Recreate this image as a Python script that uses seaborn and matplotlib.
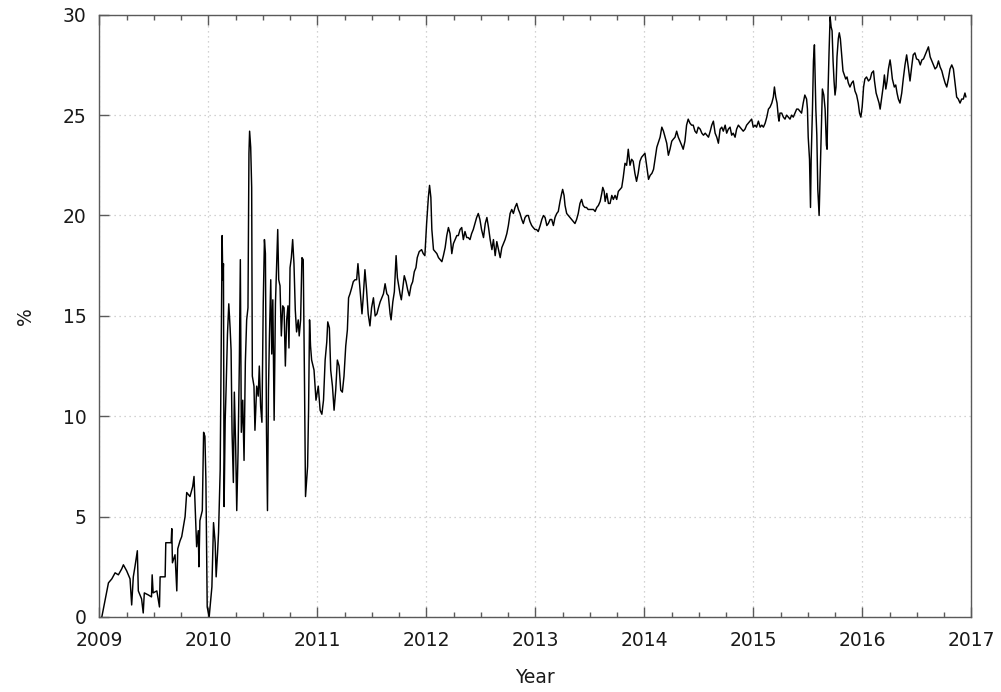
import matplotlib
matplotlib.use("Agg")
import matplotlib.pyplot as plt
from matplotlib.ticker import MultipleLocator, NullLocator
import seaborn as sns
import pandas as pd

# Share (%) over time, decimal years
years = [
    2009.023, 2009.084, 2009.115, 2009.145, 2009.175, 2009.206, 2009.221, 2009.251, 2009.282, 2009.297,
    2009.312, 2009.327, 2009.349, 2009.358, 2009.388, 2009.403, 2009.413, 2009.449, 2009.479, 2009.485,
    2009.494, 2009.528, 2009.552, 2009.558, 2009.604, 2009.610, 2009.659, 2009.665, 2009.671, 2009.695,
    2009.711, 2009.720, 2009.741, 2009.756, 2009.787, 2009.802, 2009.832, 2009.857, 2009.869, 2009.878,
    2009.893, 2009.908, 2009.914, 2009.923, 2009.945, 2009.957, 2009.969, 2009.978, 2009.990,
    2010.008, 2010.033, 2010.048, 2010.063, 2010.072, 2010.085, 2010.094, 2010.109, 2010.118, 2010.127,
    2010.133, 2010.139, 2010.145, 2010.155, 2010.164, 2010.176, 2010.188, 2010.200, 2010.209, 2010.218,
    2010.230, 2010.239, 2010.251, 2010.261, 2010.273, 2010.285, 2010.294, 2010.303, 2010.316, 2010.328,
    2010.340, 2010.352, 2010.364, 2010.373, 2010.379, 2010.389, 2010.398, 2010.404, 2010.419, 2010.428,
    2010.444, 2010.458, 2010.468, 2010.480, 2010.492, 2010.504, 2010.515, 2010.524, 2010.534, 2010.543,
    2010.552, 2010.561, 2010.573, 2010.582, 2010.592, 2010.604, 2010.616, 2010.628, 2010.637, 2010.646,
    2010.658, 2010.670, 2010.683, 2010.695, 2010.707, 2010.719, 2010.731, 2010.740, 2010.750, 2010.762,
    2010.774, 2010.786, 2010.798, 2010.810, 2010.825, 2010.834, 2010.847, 2010.859, 2010.871, 2010.883,
    2010.892, 2010.902, 2010.911, 2010.920, 2010.929, 2010.938, 2010.948, 2010.970, 2010.988,
    2011.009, 2011.026, 2011.042, 2011.057, 2011.072, 2011.087, 2011.096, 2011.111, 2011.123, 2011.139,
    2011.154, 2011.169, 2011.184, 2011.200, 2011.215, 2011.230, 2011.245, 2011.261, 2011.276, 2011.287,
    2011.300, 2011.316, 2011.330, 2011.346, 2011.361, 2011.373, 2011.385, 2011.398, 2011.410, 2011.421,
    2011.437, 2011.452, 2011.467, 2011.483, 2011.498, 2011.515, 2011.531, 2011.547, 2011.561, 2011.577,
    2011.592, 2011.607, 2011.622, 2011.638, 2011.652, 2011.668, 2011.677, 2011.693, 2011.707, 2011.723,
    2011.735, 2011.747, 2011.759, 2011.771, 2011.784, 2011.798, 2011.814, 2011.829, 2011.844, 2011.860,
    2011.875, 2011.890, 2011.905, 2011.917, 2011.935, 2011.957, 2011.972, 2011.987,
    2012.003, 2012.019, 2012.030, 2012.042, 2012.051, 2012.066, 2012.082, 2012.097, 2012.112, 2012.127,
    2012.143, 2012.157, 2012.173, 2012.188, 2012.203, 2012.218, 2012.234, 2012.249, 2012.264, 2012.280,
    2012.294, 2012.310, 2012.325, 2012.340, 2012.355, 2012.371, 2012.385, 2012.401, 2012.416, 2012.431,
    2012.446, 2012.462, 2012.477, 2012.492, 2012.507, 2012.525, 2012.541, 2012.556, 2012.571, 2012.586,
    2012.602, 2012.616, 2012.632, 2012.647, 2012.662, 2012.678, 2012.693, 2012.708, 2012.723, 2012.739,
    2012.753, 2012.769, 2012.784, 2012.799, 2012.814, 2012.830, 2012.845, 2012.860, 2012.876, 2012.890,
    2012.906, 2012.921, 2012.936, 2012.951, 2012.967, 2012.981, 2012.997,
    2013.012, 2013.027, 2013.045, 2013.060, 2013.075, 2013.090, 2013.106, 2013.120, 2013.136, 2013.151,
    2013.166, 2013.181, 2013.197, 2013.211, 2013.227, 2013.242, 2013.251, 2013.264, 2013.273, 2013.288,
    2013.303, 2013.318, 2013.333, 2013.348, 2013.364, 2013.379, 2013.394, 2013.410, 2013.425, 2013.439,
    2013.455, 2013.470, 2013.485, 2013.501, 2013.519, 2013.534, 2013.549, 2013.564, 2013.579, 2013.595,
    2013.610, 2013.619, 2013.632, 2013.641, 2013.656, 2013.671, 2013.686, 2013.702, 2013.716, 2013.732,
    2013.747, 2013.762, 2013.778, 2013.793, 2013.807, 2013.823, 2013.838, 2013.853, 2013.869, 2013.884,
    2013.898, 2013.914, 2013.929, 2013.944, 2013.960, 2013.975, 2013.990,
    2014.006, 2014.021, 2014.039, 2014.054, 2014.070, 2014.085, 2014.115, 2014.145, 2014.161, 2014.176,
    2014.191, 2014.206, 2014.221, 2014.236, 2014.252, 2014.266, 2014.282, 2014.297, 2014.312, 2014.328,
    2014.343, 2014.357, 2014.373, 2014.388, 2014.403, 2014.419, 2014.434, 2014.449, 2014.465, 2014.480,
    2014.495, 2014.513, 2014.528, 2014.543, 2014.559, 2014.574, 2014.589, 2014.605, 2014.619, 2014.634,
    2014.650, 2014.665, 2014.680, 2014.696, 2014.711, 2014.725, 2014.742, 2014.756, 2014.771, 2014.787,
    2014.802, 2014.816, 2014.833, 2014.847, 2014.863, 2014.878, 2014.893, 2014.908, 2014.924, 2014.939,
    2014.954, 2014.970, 2014.985,
    2015.000, 2015.016, 2015.030, 2015.047, 2015.063, 2015.078, 2015.093, 2015.109, 2015.124, 2015.139,
    2015.154, 2015.170, 2015.184, 2015.194, 2015.206, 2015.218, 2015.230, 2015.236, 2015.245, 2015.261,
    2015.276, 2015.291, 2015.306, 2015.321, 2015.337, 2015.352, 2015.367, 2015.382, 2015.398, 2015.412,
    2015.428, 2015.443, 2015.458, 2015.473, 2015.489, 2015.497, 2015.504, 2015.516, 2015.525, 2015.531,
    2015.543, 2015.552, 2015.561, 2015.568, 2015.574, 2015.583, 2015.592, 2015.604, 2015.613, 2015.622,
    2015.634, 2015.647, 2015.659, 2015.671, 2015.677, 2015.686, 2015.695, 2015.705, 2015.714, 2015.723,
    2015.732, 2015.741, 2015.750, 2015.759, 2015.768, 2015.780, 2015.789, 2015.799, 2015.811, 2015.823,
    2015.835, 2015.848, 2015.860, 2015.872, 2015.887, 2015.903, 2015.917, 2015.933, 2015.948, 2015.963,
    2015.975, 2015.987, 2015.999,
    2016.012, 2016.024, 2016.039, 2016.057, 2016.073, 2016.087, 2016.103, 2016.112, 2016.127, 2016.143,
    2016.154, 2016.164, 2016.179, 2016.194, 2016.203, 2016.216, 2016.228, 2016.240, 2016.255, 2016.264,
    2016.276, 2016.294, 2016.307, 2016.319, 2016.331, 2016.346, 2016.362, 2016.376, 2016.392, 2016.407,
    2016.422, 2016.438, 2016.453, 2016.467, 2016.483, 2016.498, 2016.516, 2016.532, 2016.547, 2016.562,
    2016.577, 2016.592, 2016.607, 2016.623, 2016.638, 2016.653, 2016.668, 2016.684, 2016.699, 2016.714,
    2016.730, 2016.744, 2016.760, 2016.775, 2016.790, 2016.805, 2016.821, 2016.836, 2016.851, 2016.866,
    2016.881, 2016.897, 2016.912, 2016.927, 2016.942, 2016.951,
]

share = [
    0.0, 1.7, 1.9, 2.2, 2.1, 2.4, 2.6, 2.3, 1.9, 0.6,
    2.0, 2.5, 3.3, 1.3, 0.9, 0.2, 1.2, 1.1, 1.0, 2.1,
    1.2, 1.3, 0.5, 2.0, 2.0, 3.7, 3.7, 4.4, 2.7, 3.1,
    1.3, 3.4, 3.8, 4.0, 5.0, 6.2, 6.0, 6.5, 7.0, 5.7,
    3.5, 4.3, 2.5, 4.8, 5.3, 9.2, 9.0, 6.8, 0.5,
    0.0, 1.5, 4.7, 3.7, 2.0, 3.2, 4.2, 7.3, 13.2, 19.0,
    16.8, 17.6, 5.5, 9.8, 11.5, 14.1, 15.6, 14.4, 13.3, 9.2,
    6.7, 11.2, 8.5, 5.3, 8.2, 12.7, 17.8, 9.2, 10.8, 7.8,
    12.7, 14.8, 15.4, 23.1, 24.2, 23.4, 21.4, 12.0, 11.5, 9.3,
    11.5, 11.0, 12.5, 10.5, 9.7, 15.6, 18.8, 18.1, 9.2, 5.3,
    11.3, 14.0, 16.8, 13.1, 15.8, 9.8, 15.6, 17.8, 19.3, 16.8,
    16.5, 14.0, 15.5, 15.4, 12.5, 14.8, 15.5, 13.4, 17.4, 17.9,
    18.8, 17.6, 15.3, 14.2, 14.8, 14.0, 14.8, 17.9, 17.8, 11.5,
    6.0, 6.8, 7.5, 10.3, 14.8, 13.5, 12.8, 12.3, 10.8,
    11.5, 10.3, 10.1, 10.8, 12.8, 13.7, 14.7, 14.4, 12.3, 11.5,
    10.3, 11.3, 12.8, 12.5, 11.3, 11.2, 12.0, 13.5, 14.3, 15.9,
    16.1, 16.4, 16.7, 16.8, 16.8, 17.6, 16.8, 15.9, 15.1, 15.9,
    17.3, 16.3, 15.1, 14.5, 15.4, 15.9, 15.0, 15.1, 15.4, 15.7,
    15.9, 16.1, 16.6, 16.1, 16.0, 15.1, 14.8, 15.7, 16.2, 18.0,
    16.9, 16.5, 16.1, 15.8, 16.4, 17.0, 16.7, 16.3, 16.0, 16.5,
    16.7, 17.2, 17.4, 17.9, 18.2, 18.3, 18.1, 18.0,
    19.6, 20.9, 21.5, 20.9, 19.3, 18.3, 18.2, 18.1, 17.9, 17.8,
    17.7, 18.0, 18.4, 19.0, 19.4, 19.1, 18.1, 18.6, 18.8, 19.0,
    19.0, 19.3, 19.4, 18.8, 19.2, 18.9, 18.9, 18.8, 19.1, 19.3,
    19.6, 19.9, 20.1, 19.8, 19.3, 18.9, 19.6, 19.9, 19.4, 18.8,
    18.3, 18.8, 18.0, 18.7, 18.3, 17.9, 18.4, 18.6, 18.8, 19.1,
    19.5, 20.1, 20.3, 20.1, 20.4, 20.6, 20.3, 20.1, 19.8, 19.6,
    19.9, 20.0, 20.0, 19.7, 19.5, 19.4, 19.3,
    19.3, 19.2, 19.5, 19.8, 20.0, 19.9, 19.5, 19.6, 19.8, 19.8,
    19.5, 19.9, 20.1, 20.2, 20.7, 21.1, 21.3, 21.0, 20.5, 20.1,
    20.0, 19.9, 19.8, 19.7, 19.6, 19.8, 20.1, 20.6, 20.8, 20.5,
    20.4, 20.4, 20.3, 20.3, 20.3, 20.3, 20.2, 20.4, 20.5, 20.7,
    21.1, 21.4, 21.2, 20.7, 21.1, 20.6, 20.6, 21.0, 20.8, 21.0,
    20.8, 21.2, 21.3, 21.4, 21.9, 22.6, 22.5, 23.3, 22.5, 22.8,
    22.7, 22.1, 21.7, 22.1, 22.7, 22.9, 23.0,
    23.1, 22.5, 21.8, 22.0, 22.1, 22.3, 23.4, 23.9, 24.4, 24.2,
    23.9, 23.6, 23.0, 23.3, 23.7, 23.8, 23.9, 24.2, 23.9, 23.7,
    23.5, 23.3, 23.7, 24.5, 24.8, 24.6, 24.5, 24.5, 24.2, 24.1,
    24.4, 24.3, 24.1, 24.0, 24.1, 24.0, 23.9, 24.2, 24.5, 24.7,
    24.1, 23.9, 23.6, 24.3, 24.4, 24.2, 24.5, 24.1, 24.3, 24.4,
    24.0, 24.1, 23.9, 24.3, 24.5, 24.4, 24.3, 24.2, 24.3, 24.5,
    24.6, 24.7, 24.8,
    24.4, 24.5, 24.4, 24.7, 24.4, 24.5, 24.4, 24.6, 24.9, 25.3,
    25.4, 25.6, 25.9, 26.4, 25.9, 25.6, 24.9, 24.7, 25.1, 25.1,
    24.9, 24.8, 25.0, 24.9, 24.8, 25.0, 24.9, 25.1, 25.3, 25.3,
    25.2, 25.1, 25.6, 26.0, 25.8, 25.3, 23.9, 22.8, 20.4, 22.8,
    25.3, 27.7, 28.5, 26.9, 25.3, 24.0, 21.3, 20.0, 21.9, 23.6,
    26.3, 26.0, 25.3, 23.5, 23.3, 26.2, 28.1, 29.9, 29.4, 29.2,
    27.7, 26.7, 26.0, 26.4, 27.9, 28.8, 29.1, 28.8, 28.0, 27.2,
    27.0, 26.8, 26.9, 26.6, 26.4, 26.6, 26.7, 26.2, 26.0, 25.6,
    25.1, 24.9, 25.4,
    26.4, 26.8, 26.9, 26.7, 26.8, 27.1, 27.2, 26.7, 26.1, 25.8,
    25.6, 25.3, 25.9, 26.5, 27.0, 26.3, 26.7, 27.3, 27.75, 27.4,
    26.8, 26.4, 26.5, 26.1, 25.8, 25.6, 26.1, 26.8, 27.5, 28.0,
    27.4, 26.7, 27.4, 28.0, 28.1, 27.8, 27.75, 27.5, 27.75, 27.8,
    28.0, 28.2, 28.4, 27.9, 27.7, 27.5, 27.3, 27.4, 27.7, 27.4,
    27.2, 26.9, 26.6, 26.4, 26.8, 27.3, 27.5, 27.3, 26.6, 25.9,
    25.8, 25.6, 25.8, 25.8, 26.1, 25.9,
]

year_ticks = list(range(2009, 2018))
pct_ticks = [0, 5, 10, 15, 20, 25, 30]

df = pd.DataFrame({"Year": years, "%": share})

sns.set_style("white")
plt.rcParams["font.family"] = ["DejaVu Sans"]

axis_grey = "#5a5a5a"
text_col = "#1a1a1a"

fig = plt.figure(figsize=(10.01, 6.92), dpi=100)
ax = fig.add_axes([0.0992, 0.1084, 0.8711, 0.8703])

sns.lineplot(data=df, x="Year", y="%", ax=ax, color="black",
             linewidth=1.05, estimator=None, sort=False)

ax.set_xlim(year_ticks[0], year_ticks[-1])
ax.set_ylim(pct_ticks[0], pct_ticks[-1])
ax.set_xticks(year_ticks)
ax.set_xticklabels([str(y) for y in year_ticks])
ax.set_yticks(pct_ticks)
ax.set_yticklabels([str(v) for v in pct_ticks])
ax.xaxis.set_minor_locator(MultipleLocator(0.25))
ax.yaxis.set_minor_locator(NullLocator())

ax.grid(True, which="major", color="#c4c4c4", linestyle=(0, (1, 3)), linewidth=0.9)
ax.set_axisbelow(True)

for side in ["left", "right", "top", "bottom"]:
    ax.spines[side].set_visible(True)
    ax.spines[side].set_color(axis_grey)
    ax.spines[side].set_linewidth(1.0)

ax.tick_params(axis="x", which="major", direction="in", length=7, width=1,
               color=axis_grey, top=True, bottom=True, labelsize=13.5,
               labelcolor=text_col, pad=10)
ax.tick_params(axis="x", which="minor", direction="in", length=3.5, width=1,
               color=axis_grey, top=True, bottom=True)
ax.tick_params(axis="y", which="major", direction="in", length=7, width=1,
               color=axis_grey, left=True, right=False, labelsize=13.5,
               labelcolor=text_col, pad=9)

ax.set_xlabel("Year", fontsize=13.5, color=text_col, labelpad=13)
ax.set_ylabel("%", fontsize=13.5, color=text_col, labelpad=20)

fig.savefig("out.png", dpi=100)
